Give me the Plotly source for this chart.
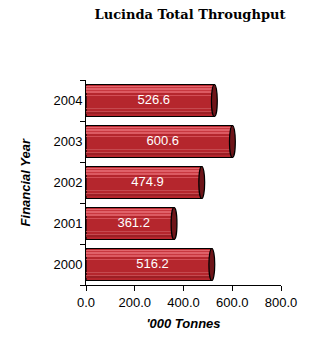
import plotly.graph_objects as go

years = ["2000", "2001", "2002", "2003", "2004"]
throughput = [516.2, 361.2, 474.9, 600.6, 526.6]
x_ticks = [0, 200, 400, 600, 800]
x_tick_labels = ["0.0", "200.0", "400.0", "600.0", "800.0"]

fig = go.Figure()

BW = 0.78
SANS = "Liberation Sans, Arial"
# main cylinder body
fig.add_trace(go.Bar(
    y=years, x=throughput, orientation="h", width=BW,
    marker=dict(color="#b5262d", line=dict(color="#000000", width=1.2)),
    hoverinfo="skip", showlegend=False,
))
# shading bands (highlight near top, darker near bottom)
bands = [
    (0.30, 0.06, "#c8373f"),
    (0.22, 0.06, "#c8373f"),
    (0.33, 0.015, "#e2666d"),
    (0.27, 0.015, "#e06169"),
    (0.20, 0.012, "#dc5a62"),
    (0.12, 0.012, "#d24e56"),
    (-0.20, 0.012, "#c54a50"),
    (-0.27, 0.012, "#c54a50"),
    (-0.33, 0.05, "#9c1f25"),
]
for off, w, col in bands:
    fig.add_trace(go.Bar(
        y=years, x=throughput, orientation="h", width=w, offset=off,
        marker=dict(color=col, line=dict(width=0)),
        hoverinfo="skip", showlegend=False,
    ))
# value labels
fig.add_trace(go.Scatter(
    y=years, x=[v / 2 + 15 for v in throughput], mode="text",
    text=[f"{v:.1f}" for v in throughput],
    textfont=dict(color="white", size=13, family=SANS),
    hoverinfo="skip", showlegend=False,
))

shapes = []
for i, v in enumerate(throughput):
    shapes.append(dict(
        type="circle", xref="x", yref="y",
        x0=v - 12, x1=v + 12, y0=i - BW / 2, y1=i + BW / 2,
        fillcolor="#6e1519", line=dict(color="#000000", width=1.2),
        layer="above",
    ))

fig.update_layout(
    width=309, height=341,
    margin=dict(l=86, r=25, t=80, b=49),
    paper_bgcolor="white", plot_bgcolor="white",
    barmode="overlay",
    shapes=shapes,
    title=dict(
        text="Lucinda Total Throughput", x=190 / 309, xanchor="center",
        y=1 - 14 / 341, yanchor="middle",
        font=dict(family="DejaVu Serif, serif", size=13, color="#000000", weight="bold"),
    ),
    xaxis=dict(
        range=[0, 800], tickvals=x_ticks, ticktext=x_tick_labels,
        showline=True, linecolor="#000000", linewidth=1,
        ticks="outside", ticklen=5, tickcolor="#000000",
        showgrid=False, zeroline=False,
        tickfont=dict(family=SANS, size=13, color="#000000"),
        title=dict(text="<b><i>'000 Tonnes</i></b>", standoff=10,
                   font=dict(family=SANS, size=13, color="#000000")),
        fixedrange=True,
    ),
    yaxis=dict(
        type="category", categoryorder="array", categoryarray=years,
        range=[-0.5, 4.5],
        showline=True, linecolor="#000000", linewidth=1,
        ticks="outside", ticklen=5, tickcolor="#000000", tickson="boundaries",
        showgrid=False, zeroline=False,
        tickfont=dict(family=SANS, size=13, color="#000000"),
        fixedrange=True,
    ),
    annotations=[dict(
        text="<b><i>Financial Year</i></b>", textangle=-90,
        xref="paper", yref="paper", x=(25 - 86) / 198, y=0.5,
        xanchor="center", yanchor="middle", showarrow=False,
        font=dict(family=SANS, size=13, color="#000000"),
    )],
)

fig.write_html("out.html", config={"displayModeBar": False},
               post_script="document.body.style.margin='0';")
